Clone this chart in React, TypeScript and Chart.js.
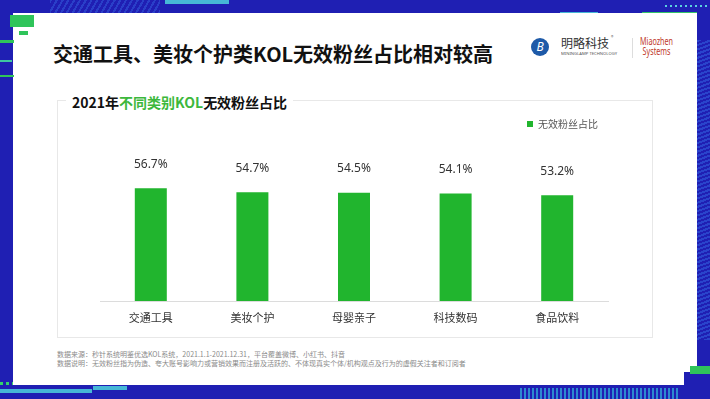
import React, { useEffect, useRef } from "react";
import { Chart, registerables } from "chart.js";

Chart.register(...registerables);

// ---- data ----
const categories = ["交通工具", "美妆个护", "母婴亲子", "科技数码", "食品饮料"];
const invalidFanShare = [56.7, 54.7, 54.5, 54.1, 53.2];
const seriesName = "无效粉丝占比";
const yAxisRange = [0, 81.5];

const FONT = '"Noto Sans", "Noto Sans CJK SC", sans-serif';
const CJK = '"Noto Sans CJK SC", "Noto Sans", sans-serif';
const GREEN = "#21b52e";
const BLUE = "#1f1fb3";

const valueLabels = {
  id: "valueLabels",
  afterDatasetsDraw(chart: any) {
    const { ctx } = chart;
    const meta = chart.getDatasetMeta(0);
    ctx.save();
    ctx.font = `12px ${FONT}`;
    ctx.fillStyle = "#333";
    ctx.textAlign = "center";
    ctx.textBaseline = "middle";
    meta.data.forEach((bar: any, i: number) => {
      ctx.fillText(invalidFanShare[i].toFixed(1) + "%", bar.x, bar.y - 24);
    });
    ctx.restore();
  },
};

function BarChart() {
  const ref = useRef<HTMLCanvasElement>(null);
  useEffect(() => {
    if (!ref.current) return;
    const chart = new Chart(ref.current, {
      type: "bar",
      data: {
        labels: categories,
        datasets: [
          {
            label: seriesName,
            data: invalidFanShare,
            backgroundColor: GREEN,
            borderWidth: 0,
            categoryPercentage: 1,
            barPercentage: 0.315,
          },
        ],
      },
      options: {
        responsive: false,
        animation: false,
        layout: { padding: { left: 43, right: 44, top: 4, bottom: 6 } },
        plugins: {
          legend: {
            position: "top",
            align: "end",
            labels: {
              boxWidth: 6,
              boxHeight: 6,
              color: "#555",
              padding: 10,
              font: { size: 10, family: CJK },
            },
          },
          tooltip: { enabled: false },
        },
        scales: {
          x: {
            grid: { display: false, drawTicks: false },
            border: { display: true, color: "#dcdcdc", width: 1 },
            ticks: {
              color: "#333",
              padding: 10,
              font: { size: 11, family: CJK },
            },
            afterFit: (s: any) => {
              s.height = 30;
            },
          },
          y: {
            display: false,
            min: yAxisRange[0],
            max: yAxisRange[1],
          },
        },
      },
      plugins: [valueLabels],
    });
    return () => chart.destroy();
  }, []);
  return (
    <canvas
      ref={ref}
      width={595}
      height={232}
      style={{ position: "absolute", left: 57, top: 105, width: 595, height: 232 }}
    />
  );
}

function Box(props: { l: number; t: number; w: number; h: number; c: string; style?: any }) {
  return (
    <div
      style={{
        position: "absolute",
        left: props.l,
        top: props.t,
        width: props.w,
        height: props.h,
        background: props.c,
        ...(props.style || {}),
      }}
    />
  );
}

export default function App() {
  return (
    <div
      style={{
        position: "absolute",
        left: 0,
        top: 0,
        width: 710,
        height: 399,
        overflow: "hidden",
        background: BLUE,
        fontFamily: CJK,
      }}
    >
      {/* decorations */}
      <Box l={50} t={0} w={110} h={13} c="repeating-linear-gradient(120deg, #2a3fc8 0 2px, #1f1fb3 2px 5px)" />
      <Box l={165} t={0} w={64} h={4} c="#46b7d6" />
      <Box l={665} t={5} w={42} h={2} c="repeating-linear-gradient(90deg, #5ad0e0 0 2px, transparent 2px 5px)" />
      <Box l={560} t={12} w={38} h={2} c="#46b7d6" />
      <Box l={642} t={12} w={55} h={2} c="#34c46a" />
      <Box l={697} t={40} w={13} h={300} c="repeating-linear-gradient(160deg, #2a44cc 0 2px, #1f1fb3 2px 4px)" />
      <Box l={0} t={382} w={42} h={3} c="repeating-linear-gradient(90deg, #33d36a 0 3px, transparent 3px 6px)" />
      <Box l={0} t={389} w={92} h={4} c="#46b7d6" />
      <Box l={93} t={386} w={34} h={4} c="#46b7d6" />
      <Box l={520} t={388} w={160} h={11} c="repeating-linear-gradient(90deg, #2c8ad0 0 2px, #1f1fb3 2px 4px)" />

      {/* card */}
      <Box l={13} t={13} w={684} h={372} c="#ffffff" />

      <Box l={10} t={15} w={24} h={12} c="#2fc45a" />
      <Box l={19} t={31} w={9} h={4} c="#2fc45a" />
      <Box l={0} t={40} w={14} h={3} c="#2fc45a" />
      <Box l={0} t={60} w={12} h={2} c="#3ec7a0" />
      <Box l={0} t={75} w={14} h={2} c="#2fc45a" />
      <Box l={684} t={372} w={26} h={13} c={BLUE} />
      <Box l={690} t={366} w={20} h={8} c="#2fc45a" />

      {/* title */}
      <div
        style={{
          position: "absolute",
          left: 53,
          top: 41,
          fontSize: 20,
          lineHeight: "26px",
          fontWeight: 700,
          color: "#111",
          whiteSpace: "nowrap",
        }}
      >
        交通工具、美妆个护类KOL无效粉丝占比相对较高
      </div>

      {/* logo */}
      <div
        style={{
          position: "absolute",
          left: 531,
          top: 38,
          width: 18,
          height: 18,
          borderRadius: 9,
          background: "#1e5aa8",
          color: "#fff",
          fontSize: 12,
          lineHeight: "18px",
          textAlign: "center",
          fontStyle: "italic",
          fontFamily: FONT,
        }}
      >
        B
      </div>
      <div style={{ position: "absolute", left: 561, top: 35, fontSize: 12, lineHeight: "16px", color: "#333", whiteSpace: "nowrap" }}>
        明略科技
      </div>
      <div style={{ position: "absolute", left: 611, top: 33, fontSize: 5, color: "#666" }}>®</div>
      <div
        style={{
          position: "absolute",
          left: 561,
          top: 51,
          fontSize: 6,
          color: "#555",
          whiteSpace: "nowrap",
          transform: "scale(0.7)",
          transformOrigin: "left top",
          fontFamily: FONT,
        }}
      >
        MININGLAMP TECHNOLOGY
      </div>
      <Box l={632} t={38} w={1} h={20} c="#dddddd" />
      <div
        style={{
          position: "absolute",
          left: 640,
          top: 36,
          fontSize: 10,
          lineHeight: "10px",
          color: "#c0392b",
          whiteSpace: "nowrap",
          transform: "scaleX(0.72)",
          transformOrigin: "left top",
          fontFamily: FONT,
          textAlign: "center",
        }}
      >
        Miaozhen
        <br />
        Systems
      </div>

      {/* chart frame */}
      <div
        style={{
          position: "absolute",
          left: 57,
          top: 100,
          width: 594,
          height: 236,
          border: "1px solid #e8e8e8",
        }}
      />
      <div
        style={{
          position: "absolute",
          left: 66,
          top: 92,
          padding: "0 6px",
          background: "#fff",
          fontSize: 14,
          lineHeight: "20px",
          fontWeight: 700,
          color: "#111",
          whiteSpace: "nowrap",
        }}
      >
        2021年<span style={{ color: "#3cb83c" }}>不同类别KOL</span>无效粉丝占比
      </div>

      <BarChart />

      {/* footnotes */}
      <div style={{ position: "absolute", left: 57, top: 349, fontSize: 7, lineHeight: "10px", color: "#8a8a8a", whiteSpace: "nowrap" }}>
        数据来源：秒针系统明鉴优选KOL系统，2021.1.1-2021.12.31，平台覆盖微博、小红书、抖音
      </div>
      <div style={{ position: "absolute", left: 57, top: 358, fontSize: 7, lineHeight: "10px", color: "#8a8a8a", whiteSpace: "nowrap" }}>
        数据说明：无效粉丝指为伪造、夸大账号影响力或营销效果而注册及活跃的、不体现真实个体/机构观点及行为的虚假关注者和订阅者
      </div>
    </div>
  );
}
